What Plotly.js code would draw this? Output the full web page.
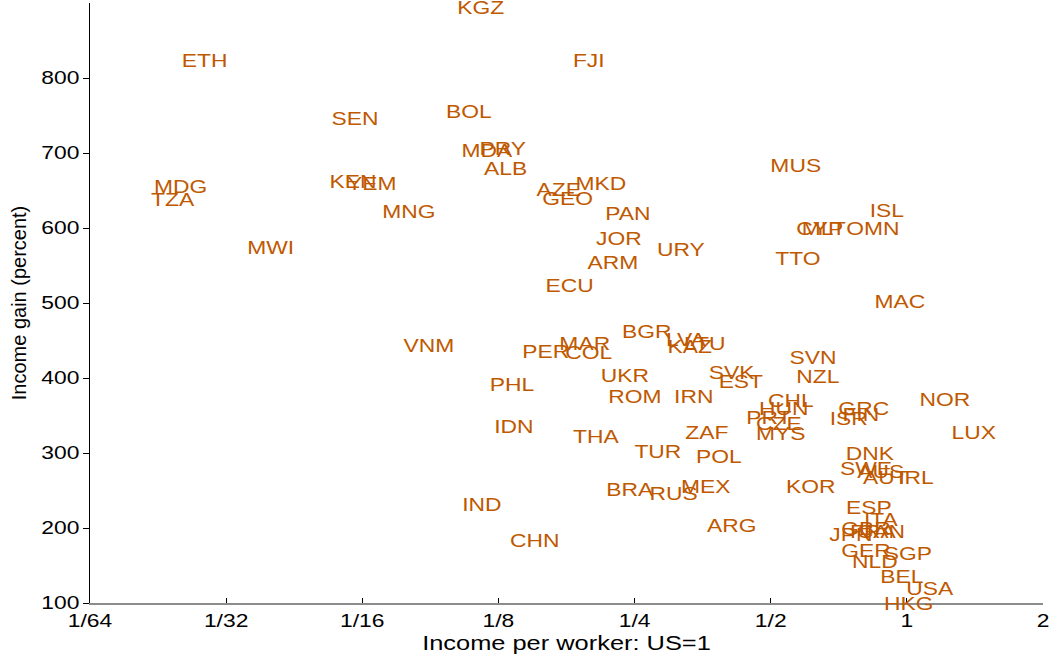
<!DOCTYPE html>
<html>
<head>
<meta charset="utf-8">
<script src="https://cdn.plot.ly/plotly-3.0.1.min.js"></script>
<style>
html,body{margin:0;padding:0;background:#fff;}
#plot{width:1049px;height:657px;}
</style>
</head>
<body>
<div id="plot"></div>
<script>
// Country codes
const countries = ["KGZ","ETH","FJI","SEN","BOL","MDA","PRY","ALB","AZE","MKD","GEO","MUS",
  "MDG","TZA","KEN","YEM","MNG","PAN","ISL","CYP","MLT","OMN","TTO","JOR","URY","MWI","ARM",
  "ECU","MAC","VNM","BGR","LVA","KAZ","LTU","MAR","PER","COL","UKR","SVN","SVK","EST","NZL",
  "PHL","ROM","IRN","NOR","CHL","HUN","PRT","CZE","MYS","GRC","FIN","ISR","LUX","IDN","THA",
  "ZAF","TUR","POL","DNK","SWE","AUS","AUT","IRL","KOR","MEX","BRA","RUS","IND","ARG","ESP",
  "ITA","GBR","FRA","CAN","JPN","CHN","GER","NLD","SGP","BEL","USA","HKG"];
// Income per worker, US = 1
const incomePerWorker = [0.1143,0.0280,0.198,0.0602,0.1075,0.1179,0.1278,0.1297,0.170,0.2105,0.1779,0.568,
  0.0248,0.0238,0.0596,0.0656,0.0792,0.2417,0.903,0.642,0.655,0.841,0.574,0.2308,0.3165,0.0392,0.2238,
  0.1797,0.965,0.0877,0.266,0.3247,0.3312,0.3574,0.194,0.159,0.198,0.238,0.620,0.410,0.4295,0.636,
  0.1339,0.2503,0.3379,1.213,0.554,0.534,0.4953,0.5212,0.5264,0.803,0.791,0.744,1.406,0.1352,0.2053,
  0.3611,0.2815,0.384,0.828,0.812,0.876,0.899,1.047,0.613,0.359,0.2440,0.305,0.1149,0.410,0.824,
  0.876,0.812,0.841,0.876,0.752,0.1505,0.812,0.850,1.005,0.975,1.124,1.010];
// Income gain, percent
const incomeGain = [895,824,824,746.7,757.3,704,706.7,680,653.3,661.3,641.3,685.3,
  656,638.7,662.7,660,622.7,620,624,601.3,601.3,601.3,561.3,586.7,573.3,574.7,554.7,
  525.3,502.7,445.3,462.7,453.3,442.7,446.7,446.7,436,434.7,404,428,409.3,397.3,402.7,
  392,377.3,377.3,372,370.7,360,349.3,340,326.7,361.3,353.3,346.7,329.3,337.3,322.7,
  329.3,302.7,296,300,281.3,277.3,269.3,269.3,257.3,257.3,253.3,246.7,233.3,205.3,228,
  213.3,200,196,197.3,193.3,184,170.7,157.3,166.7,137.3,120,100];
// Axis ticks
const xTickVals = [1/64,1/32,1/16,1/8,1/4,1/2,1,2];
const xTickText = ["1/64","1/32","1/16","1/8","1/4","1/2","1","2"];
const yTickVals = [100,200,300,400,500,600,700,800];

const labelColor = "rgb(191,89,0)";
const fontFam = "Liberation Sans, Arial, sans-serif";

const data = [{
  type: "scatter",
  mode: "text",
  x: incomePerWorker,
  y: incomeGain,
  text: countries,
  textposition: "middle center",
  textfont: {family: fontFam, size: 18, color: labelColor},
  cliponaxis: false,
  hoverinfo: "none"
}];

const layout = {
  width: 1049, height: 657,
  margin: {l: 90, r: 6, t: 3, b: 54},
  paper_bgcolor: "#fff", plot_bgcolor: "#fff",
  showlegend: false,
  font: {family: fontFam, size: 18, color: "#000"},
  xaxis: {
    type: "log",
    range: [Math.log10(1/64), Math.log10(2)],
    tickvals: xTickVals, ticktext: xTickText,
    ticks: "inside", ticklen: 5, tickwidth: 1, tickcolor: "#000",
    showline: true, linecolor: "#8c8c8c", linewidth: 2,
    showgrid: false, zeroline: false, layer: "below traces",
    tickfont: {family: fontFam, size: 18, color: "#000"},
    title: {text: "Income per worker: US=1", font: {family: fontFam, size: 20, color: "#000"}, standoff: 6}
  },
  yaxis: {
    range: [100, 900],
    tickvals: yTickVals,
    ticks: "outside", ticklen: 6, tickwidth: 1, tickcolor: "#000",
    showline: true, linecolor: "#000", linewidth: 1,
    showgrid: false, zeroline: false, layer: "below traces",
    tickfont: {family: fontFam, size: 18, color: "#000"},
    title: {text: "Income gain (percent)", font: {family: fontFam, size: 20, color: "#000"}, standoff: 17}
  }
};

function stretchText(gd) {
  const s = 1.27;
  gd.querySelectorAll(".textpoint text, .xtick text, .ytick text, .g-xtitle text").forEach(t => {
    const x = parseFloat(t.getAttribute("x")) || 0;
    const prev = t.getAttribute("transform") || "";
    const dy = t.closest(".textpoint") ? 3 : 0;
    t.setAttribute("transform", prev + " translate(" + (x * (1 - s)) + "," + dy + ") scale(" + s + ",1)");
  });
}

Plotly.newPlot("plot", data, layout, {staticPlot: true, displayModeBar: false}).then(stretchText);
</script>
</body>
</html>
